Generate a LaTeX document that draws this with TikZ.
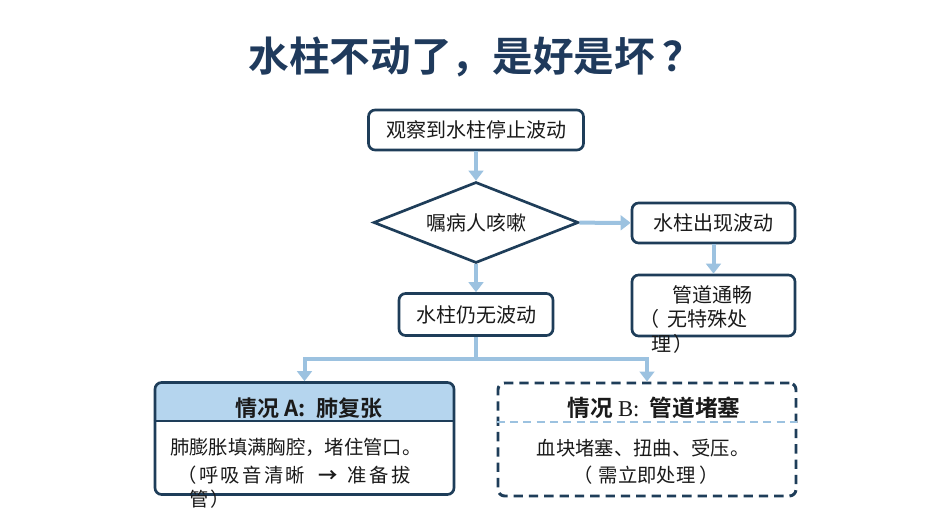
\documentclass[tikz,border=0pt]{standalone}
\usepackage{fontspec}
\setmainfont{Noto Sans CJK SC}[BoldFont={Noto Sans CJK SC Bold}, Kerning=Off]
\newfontfamily\serifB{Liberation Serif}
\usetikzlibrary{shapes.geometric,arrows.meta}
\definecolor{navy}{HTML}{1E3D59}
\definecolor{titlec}{HTML}{1F3A5C}
\definecolor{flow}{HTML}{9CC2E0}
\definecolor{hdr}{HTML}{B5D5EE}
\definecolor{ink}{HTML}{1A1A1A}
\begin{document}
\begin{tikzpicture}[x=0.75pt,y=-0.75pt,
  txt/.style={text=ink, font=\fontsize{15}{18}\selectfont, inner sep=0pt},
  box/.style={draw=navy, line width=2pt, rounded corners=5pt, fill=white, txt},
  dbox/.style={draw=navy, line width=2.2pt, rounded corners=5pt, dash pattern=on 7pt off 4.5pt},
  dia/.style={diamond, draw=navy, line width=2pt, fill=white, txt},
  body/.style={text=ink, font=\fontsize{14.5}{19.5}\selectfont, inner sep=0pt},
  head/.style={text=ink, font=\bfseries\fontsize{16.5}{19}\selectfont, inner sep=0pt},
  flowline/.style={draw=flow, line width=3pt},
  flowarrow/.style={flowline, -{Triangle[width=11pt,length=7.5pt]}}
]
\useasboundingbox (0,0) rectangle (950,531);
\fill[white] (0,0) rectangle (950,531);

% title
\node[font=\bfseries\fontsize{30.5}{34}\selectfont, text=titlec, inner sep=0pt] (title) at (476,57) {水柱不动了，是好是坏\hspace{6pt}？};

% flow boxes
\node[box, minimum width=161.25pt, minimum height=30pt] (observe) at (476,130) {观察到水柱停止波动};
\node[dia, minimum width=153.75pt, minimum height=60.75pt, aspect=2.5] (cough) at (476,222.5) {嘱病人咳嗽};
\node[box, minimum width=122.25pt, minimum height=30pt] (wave) at (713.5,223) {水柱出现波动};
\node[box, minimum width=122.25pt, minimum height=45.75pt] (clear) at (713.5,305.5) {};
\node[txt] (clear1) at (712,295) {管道通畅};
\node[txt, anchor=west] (clear2) at (639,319) {（\hspace{6pt}无特殊处};
\node[txt, anchor=west] (clear3) at (651,344) {理\hspace{2pt}）};
\node[box, minimum width=115.5pt, minimum height=31.5pt] (still) at (476,314.5) {水柱仍无波动};

% case A
\fill[hdr, rounded corners=5pt] (155,421) -- (155,383) -- (454,383) -- (454,421);
\node[draw=navy, line width=2pt, rounded corners=5pt, minimum width=224.25pt, minimum height=84pt, inner sep=0pt] (caseA) at (304.5,438.5) {};
\draw[navy, line width=1.6pt] (caseA.west |- 0,421) -- (caseA.east |- 0,421);
\node[head] (headA) at (309,408) {情况 A:\ \ 肺复张};
\node[body, anchor=west] (bodyA1) at (170,447) {肺膨胀填满胸腔，堵住管口。};
\node[body, anchor=west] (bodyA2) at (177,475) {\addfontfeature{LetterSpace=12}（\hspace{2pt}呼吸音清晰\hspace{8pt}\textbf{→}\hspace{6pt}准备拔};
\node[body, anchor=west] (bodyA3) at (189,499) {\addfontfeature{LetterSpace=12}管）};

% case B
\node[dbox, minimum width=223.5pt, minimum height=84.75pt, inner sep=0pt] (caseB) at (647,439.5) {};
\draw[flow, line width=1.6pt, dash pattern=on 6pt off 4pt] (caseB.west |- 0,422) -- (caseB.east |- 0,422);
\node[head, font=\bfseries\fontsize{17}{19}\selectfont] (headB) at (654,408) {情况 {\serifB\mdseries B:}\ \ 管道堵塞};
\node[body] (bodyB1) at (643,448) {血块堵塞、扭曲、受压。};
\node[body] (bodyB2) at (646,475) {（\hspace{5pt}需立即处理\hspace{3pt}）};

% connectors
\draw[flowarrow] (observe) -- (cough);
\draw[flowarrow] (cough) -- (wave);
\draw[flowarrow] (wave) -- (clear);
\draw[flowarrow] (cough) -- (still);
\coordinate (split) at (476,359);
\draw[flowline] (still) -- (split);
\draw[flowarrow] (split) -| (caseA.north);
\draw[flowarrow] (split) -| (caseB.north);
\end{tikzpicture}
\end{document}
